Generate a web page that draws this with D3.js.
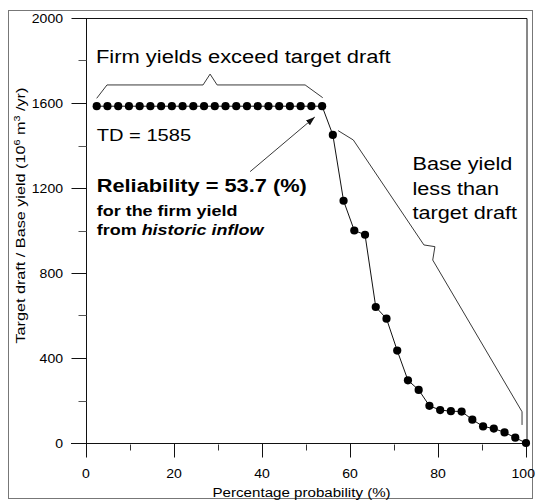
<!DOCTYPE html>
<html>
<head>
<meta charset="utf-8">
<script src="https://cdn.jsdelivr.net/npm/d3@7"></script>
<style>
  html, body { margin: 0; padding: 0; background: #fff; }
  svg { display: block; }
  text { font-family: "Liberation Sans", Arial, Helvetica, sans-serif; fill: #000; }
</style>
</head>
<body>
<svg id="chart" width="536" height="501"></svg>
<script>
// Exceedance probability (%) of each ranked year, 41 years of record
const probability = d3.range(1, 42).map(i => i * 100 / 41);

// Target draft (flat part) and base yields below it, 10^6 m^3/yr
const targetDraft = 1585;
const baseYield = [
  1585, 1585, 1585, 1585, 1585, 1585, 1585, 1585, 1585, 1585, 1585,
  1585, 1585, 1585, 1585, 1585, 1585, 1585, 1585, 1585, 1585, 1585,
  1450, 1140, 1000, 980, 640, 585, 435, 295, 250, 175, 155, 150, 148,
  110, 78, 68, 50, 25, 0
];

const xTicksMajor = [0, 20, 40, 60, 80, 100];
const xTicksMinor = [10, 30, 50, 70, 90];
const yTicksMajor = [0, 400, 800, 1200, 1600, 2000];
const yTicksMinor = [200, 600, 1000, 1400, 1800];

// Brace over the points that meet the target draft
const braceTop = [[2.43, 1622], [4.77, 1685], [26.6, 1685], [28.2, 1736], [29.8, 1685], [49.8, 1685], [53.8, 1625]];
// Brace alongside the points falling short of it
const braceRight = [[57.3, 1470], [60.75, 1426], [76.8, 932], [79.3, 924], [78.8, 861], [99.1, 147], [99.1, 85]];
// Arrow from the reliability note to the last point at the target draft
const arrowLine = [[37.3, 1277], [52.0, 1534]];

const svg = d3.select("#chart");
const W = 536;

const x = d3.scaleLinear().domain([0, 100]).range([86, 526]);
const y = d3.scaleLinear().domain([0, 2000]).range([443, 18]);

// Outer panel frame
svg.append("rect")
  .attr("x", 8.5).attr("y", 10.5).attr("width", 524).attr("height", 488)
  .attr("fill", "none").attr("stroke", "#777").attr("stroke-width", 1);

// Plot frame: top and right edges
svg.append("path")
  .attr("d", `M${x(0)},${y(2000) + 0.5}H${x(100) + 1}V${y(0)}`)
  .attr("fill", "none").attr("stroke", "#111").attr("stroke-width", 1);

// Y axis
const yAxis = svg.append("g").attr("transform", `translate(${x(0) + 0.5},0)`);
yAxis.append("line").attr("x1", 0).attr("x2", 0).attr("y1", y(2000)).attr("y2", y(0) + 14)
  .attr("stroke", "#111");
yAxis.selectAll("line.major").data(yTicksMajor).join("line")
  .attr("class", "major")
  .attr("x1", -15).attr("x2", 0)
  .attr("y1", d => Math.round(y(d)) + 0.5).attr("y2", d => Math.round(y(d)) + 0.5)
  .attr("stroke", "#111");
yAxis.selectAll("line.minor").data(yTicksMinor).join("line")
  .attr("class", "minor")
  .attr("x1", -8).attr("x2", 0)
  .attr("y1", d => Math.round(y(d)) + 0.5).attr("y2", d => Math.round(y(d)) + 0.5)
  .attr("stroke", "#555");
yAxis.selectAll("text").data(yTicksMajor).join("text")
  .attr("transform", d => `translate(-23.5,${y(d) + 4.8}) scale(1.08,1)`)
  .attr("text-anchor", "end")
  .attr("font-size", 13)
  .text(d => d);

// X axis
const xAxis = svg.append("g").attr("transform", `translate(0,${Math.round(y(0)) + 0.5})`);
xAxis.append("line").attr("x1", x(0) - 15).attr("x2", x(100) + 1).attr("y1", 0).attr("y2", 0)
  .attr("stroke", "#111");
xAxis.selectAll("line.major").data(xTicksMajor).join("line")
  .attr("class", "major")
  .attr("x1", d => Math.round(x(d)) + 0.5).attr("x2", d => Math.round(x(d)) + 0.5)
  .attr("y1", 0).attr("y2", 14)
  .attr("stroke", "#111");
xAxis.selectAll("line.minor").data(xTicksMinor).join("line")
  .attr("class", "minor")
  .attr("x1", d => Math.round(x(d)) + 0.5).attr("x2", d => Math.round(x(d)) + 0.5)
  .attr("y1", 1).attr("y2", 7)
  .attr("stroke", "#333");
// Tick labels centred under their ticks, kept inside the right edge of the page
xAxis.selectAll("text").data(xTicksMajor).join("text")
  .attr("text-anchor", "middle")
  .attr("font-size", 13)
  .text(d => d)
  .attr("transform", function (d) {
    const half = this.getComputedTextLength() * 1.08 / 2;
    const cx = Math.min(x(d), W - 1 - half);
    return `translate(${cx},34) scale(1.08,1)`;
  });

// Axis titles
svg.append("text")
  .attr("transform", `translate(${x(49)},497) scale(1.12,1)`)
  .attr("text-anchor", "middle")
  .attr("font-size", 13.5)
  .text("Percentage probability (%)");

const yTitle = svg.append("text")
  .attr("transform", `translate(25,${y(1070)}) rotate(-90) scale(1.2,1)`)
  .attr("text-anchor", "middle")
  .attr("font-size", 13.5);
yTitle.append("tspan").text("Target draft / Base yield (10");
yTitle.append("tspan").attr("dy", -5).attr("font-size", 9).text("6");
yTitle.append("tspan").attr("dy", 5).text(" m");
yTitle.append("tspan").attr("dy", -5).attr("font-size", 9).text("3");
yTitle.append("tspan").attr("dy", 5).text(" /yr)");

// Yield curve
const pts = probability.map((p, i) => [p, baseYield[i]]);
const dataLine = d3.line().x(d => x(d[0])).y(d => y(d[1]));
svg.append("path")
  .datum(pts)
  .attr("d", dataLine)
  .attr("fill", "none").attr("stroke", "#111").attr("stroke-width", 1);
svg.selectAll("circle.pt").data(pts).join("circle")
  .attr("class", "pt")
  .attr("cx", d => x(d[0])).attr("cy", d => y(d[1]))
  .attr("r", 4.1)
  .attr("fill", "#000");

// Braces
svg.append("path").attr("d", dataLine(braceTop))
  .attr("fill", "none").attr("stroke", "#222").attr("stroke-width", 0.9);
svg.append("path").attr("d", dataLine(braceRight))
  .attr("fill", "none").attr("stroke", "#222").attr("stroke-width", 0.9);

// Arrow
svg.append("defs").append("marker")
  .attr("id", "head").attr("viewBox", "0 0 10 10")
  .attr("refX", 10).attr("refY", 5)
  .attr("markerWidth", 9).attr("markerHeight", 9)
  .attr("markerUnits", "userSpaceOnUse")
  .attr("orient", "auto")
  .append("path").attr("d", "M0,1.5L10,5L0,8.5Z").attr("fill", "#111");
svg.append("path").attr("d", dataLine(arrowLine))
  .attr("fill", "none").attr("stroke", "#222").attr("stroke-width", 0.9)
  .attr("marker-end", "url(#head)");

// Annotations
function note(px, val, str, size, sx, weight) {
  return svg.append("text")
    .attr("transform", `translate(${x(px)},${y(val)}) scale(${sx},1)`)
    .attr("font-size", size)
    .attr("font-weight", weight || "normal")
    .text(str);
}
note(2.27, 1787, "Firm yields exceed target draft", 19, 1.154);
note(2.43, 1423, "TD = " + targetDraft, 16.5, 1.22);
note(2.43, 1180, "Reliability = 53.7 (%)", 19, 1.148, "bold");
note(2.43, 1068, "for the firm yield", 14.5, 1.24, "bold");
const hist = note(2.43, 979, "from ", 14.5, 1.24, "bold");
hist.append("tspan").attr("font-style", "italic").text("historic inflow");
note(74.2, 1285, "Base yield", 18.5, 1.17);
note(74.2, 1169, "less than", 18.5, 1.17);
note(74.2, 1056, "target draft", 18.5, 1.17);
</script>
</body>
</html>
